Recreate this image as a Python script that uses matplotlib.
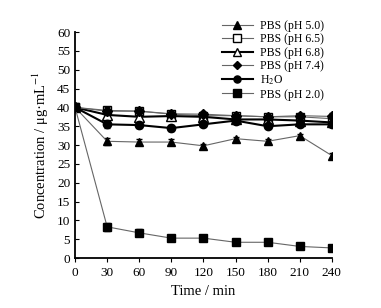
import matplotlib
matplotlib.use('Agg')
import matplotlib.pyplot as plt

plt.rcParams['font.family'] = ['Liberation Serif', 'DejaVu Serif']
plt.rcParams['mathtext.fontset'] = 'stix'

t = [0, 30, 60, 90, 120, 150, 180, 210, 240]
ph50 = [40, 31.0, 30.8, 30.8, 29.8, 31.7, 31.0, 32.5, 27.2]
ph65 = [40, 39.2, 39.0, 38.2, 37.8, 37.8, 37.5, 37.5, 37.0]
ph68 = [40, 38.0, 37.5, 37.7, 37.5, 36.8, 36.8, 36.5, 36.0]
ph74 = [40, 39.0, 39.0, 38.3, 38.2, 37.8, 37.5, 37.8, 37.6]
h2o = [40, 35.5, 35.3, 34.5, 35.5, 36.5, 35.0, 35.5, 35.5]
ph20 = [40, 8.3, 6.7, 5.3, 5.3, 4.2, 4.2, 3.1, 2.7]
err = [0.5, 1.0, 0.9, 0.7, 0.5, 0.5, 0.5, 0.5, 0.8]

fig = plt.figure(figsize=(3.81, 3.08), dpi=100)
ax = fig.add_axes([0.197, 0.162, 0.674, 0.734])

gray = '#666666'
series = [
    (ph50, '^', gray, 'black', 6, 0.8, 'PBS (pH 5.0)'),
    (ph65, 's', gray, 'white', 6, 0.8, 'PBS (pH 6.5)'),
    (ph68, '^', 'black', 'white', 7, 1.5, 'PBS (pH 6.8)'),
    (ph74, 'D', gray, 'black', 5, 0.8, 'PBS (pH 7.4)'),
    (h2o, 'o', 'black', 'black', 6, 1.5, 'H$_2$O'),
    (ph20, 's', gray, 'black', 6, 0.8, 'PBS (pH 2.0)'),
]
for y, mk, lc, fc, ms, lw, lab in series:
    ax.errorbar(t, y, yerr=err, fmt='none', ecolor='black', elinewidth=0.8,
                capsize=2)
    ax.plot(t, y, '-', marker=mk, color=lc, mfc=fc, mec='black', ms=ms,
            lw=lw, label=lab)

ax.set_xlim(0, 240)
ax.set_ylim(0, 60)
ax.set_xticks(t)
ax.set_yticks(range(0, 61, 5))
ax.spines['top'].set_visible(False)
ax.spines['right'].set_visible(False)
ax.spines['left'].set_linewidth(1.3)
ax.spines['bottom'].set_linewidth(1.3)
ax.tick_params(axis='y', direction='in', length=3, labelsize=9.5)
ax.tick_params(axis='x', direction='out', length=3, labelsize=9.5)
ax.set_xlabel('Time / min', fontsize=10.5)
ax.set_ylabel('Concentration / μg·mL$^{-1}$', fontsize=10.5)

ax.legend(loc='upper left', bbox_to_anchor=(0.54, 1.09), frameon=False,
          fontsize=8.5, handlelength=2.6, labelspacing=0.12, borderpad=0.2,
          handletextpad=0.6, markerscale=0.85)

fig.savefig('out.png', dpi=100)
